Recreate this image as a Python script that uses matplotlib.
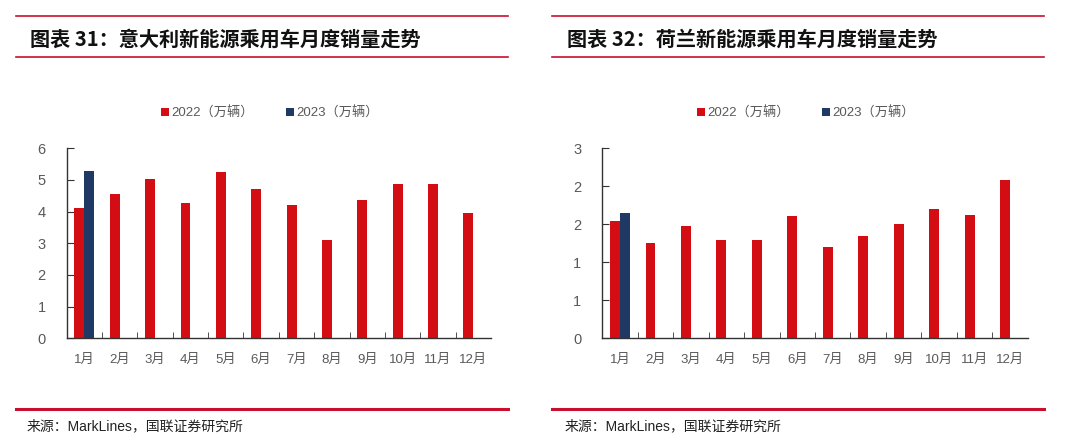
import math
import numpy as np
import matplotlib
matplotlib.use("Agg")
import matplotlib.pyplot as plt
from matplotlib.lines import Line2D
from matplotlib.ticker import FuncFormatter, FixedLocator

plt.rcParams['font.family'] = ['Liberation Sans', 'Noto Sans CJK SC']

months = ['1月', '2月', '3月', '4月', '5月', '6月', '7月', '8月', '9月', '10月', '11月', '12月']
legend_2022 = '2022（万辆）'
legend_2023 = '2023（万辆）'

# Italy
italy_2022 = [4.10, 4.55, 5.04, 4.26, 5.24, 4.73, 4.20, 3.09, 4.37, 4.86, 4.86, 3.96]
italy_2023 = [5.28]
# Netherlands
nl_2022 = [1.54, 1.25, 1.48, 1.29, 1.29, 1.61, 1.20, 1.35, 1.51, 1.70, 1.62, 2.08]
nl_2023 = [1.65]

titles = ['图表 31：意大利新能源乘用车月度销量走势', '图表 32：荷兰新能源乘用车月度销量走势']
source = '来源：MarkLines，国联证券研究所'

RED = '#D40C14'
NAVY = '#203864'
LINE_RED = '#C8102E'
GRAY = '#595959'

W, H = 1080, 446
fig = plt.figure(figsize=(W / 100, H / 100), dpi=100)


def px(x, y):
    return x / W, 1 - y / H


def panel(x0, x1, ax_left, ax_right, title, title_x, src_x, d22, d23, ymax, ystep):
    # header rules and title
    for y, lw in [(16, 1.2), (57, 1.2), (409, 2.2)]:
        fig.add_artist(Line2D([x0 / W, x1 / W], [1 - y / H, 1 - y / H],
                              color=LINE_RED, lw=lw, transform=fig.transFigure))
    fig.text(*px(title_x, 39), title, fontsize=14.5, fontweight='bold',
             va='center', ha='left', color='#111111',
             family=['Noto Sans CJK SC', 'DejaVu Sans'])
    fig.text(*px(src_x, 426), source, fontsize=10, va='center', ha='left',
             color='#222222')

    l, b = px(ax_left, 338.3)
    r, t = px(ax_right, 148.3)
    ax = fig.add_axes([l, b, r - l, t - b])
    x = np.arange(len(months))
    w = 0.28
    ax.bar(x - w / 2, d22, width=w, color=RED, label=legend_2022, zorder=2)
    ax.bar(x[:len(d23)] + w / 2, d23, width=w, color=NAVY, label=legend_2023, zorder=2)

    ax.set_xlim(-0.5, len(months) - 0.5)
    ax.set_ylim(0, ymax)
    ax.set_yticks(np.arange(0, ymax + 1e-9, ystep))
    ax.yaxis.set_major_formatter(FuncFormatter(lambda v, p: str(int(math.floor(v + 0.5)))))
    ax.set_xticks(x)
    ax.set_xticklabels(months)
    ax.xaxis.set_minor_locator(FixedLocator(np.arange(0.5, len(months) - 0.5, 1)))
    ax.tick_params(axis='x', which='major', length=0, pad=11, labelsize=9.5, labelcolor=GRAY)
    ax.tick_params(axis='x', which='minor', direction='in', length=4, color='#333333')
    ax.tick_params(axis='y', direction='in', length=5, pad=15, labelsize=10.5,
                   labelcolor=GRAY, color='#333333')
    for s in ['top', 'right']:
        ax.spines[s].set_visible(False)
    for s in ['left', 'bottom']:
        ax.spines[s].set_color('#333333')
        ax.spines[s].set_linewidth(1.0)

    ax.legend(loc='center', bbox_to_anchor=(0.479, (338.3 - 113) / 190),
              ncol=2, frameon=False, fontsize=9.5, handlelength=0.6, handleheight=0.6,
              handletextpad=0.2, columnspacing=2.4, labelcolor=GRAY)
    return ax


panel(16, 508, 66.7, 491.0, titles[0], 30, 27, italy_2022, italy_2023, 6, 1)
panel(552, 1044, 602.3, 1027.7, titles[1], 567, 565, nl_2022, nl_2023, 2.5, 0.5)

fig.savefig('out.png', dpi=100)
